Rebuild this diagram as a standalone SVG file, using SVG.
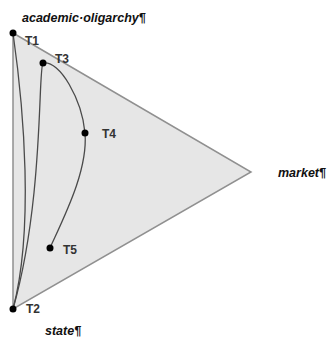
<svg xmlns="http://www.w3.org/2000/svg" width="331" height="338" viewBox="0 0 331 338">
<style>
.lbl{font-family:"Liberation Sans",Arial,sans-serif;font-weight:bold;font-style:italic;font-size:12.5px;fill:#111}
.t{font-family:"Liberation Sans",Arial,sans-serif;font-weight:bold;font-size:12px;fill:#333}
.c{fill:none;stroke:#4a4a4a;stroke-width:1.3}
.dot{fill:#000}
</style>
<rect width="331" height="338" fill="#fff"/>
<g id="triangle">
<polygon points="13,33 251,172 13,309" fill="#e6e6e6" stroke="#909090" stroke-width="1.5"/>
</g>
<g id="connectors">
<path class="c" d="M13,33 C24,110 34,230 13,309"/>
<path class="c" d="M43,63 C38,68 44,200 13,309"/>
<path class="c" d="M43,63 C60,60 82,100 85,133 C88,170 65,215 50,248"/>
</g>
<g id="T1"><circle class="dot" cx="13" cy="33" r="3.5"/><text class="t" x="25" y="45">T1</text></g>
<g id="T3"><circle class="dot" cx="43" cy="63" r="3.5"/><text class="t" x="55" y="63">T3</text></g>
<g id="T4"><circle class="dot" cx="85" cy="133" r="3.5"/><text class="t" x="102" y="138">T4</text></g>
<g id="T5"><circle class="dot" cx="50" cy="248" r="3.5"/><text class="t" x="63" y="254">T5</text></g>
<g id="T2"><circle class="dot" cx="13" cy="309" r="3.5"/><text class="t" x="26" y="313">T2</text></g>
<g id="academic"><text class="lbl" x="22" y="22">academic·oligarchy¶</text></g>
<g id="market"><text class="lbl" x="278" y="177">market¶</text></g>
<g id="state"><text class="lbl" x="45" y="335">state¶</text></g>
</svg>
